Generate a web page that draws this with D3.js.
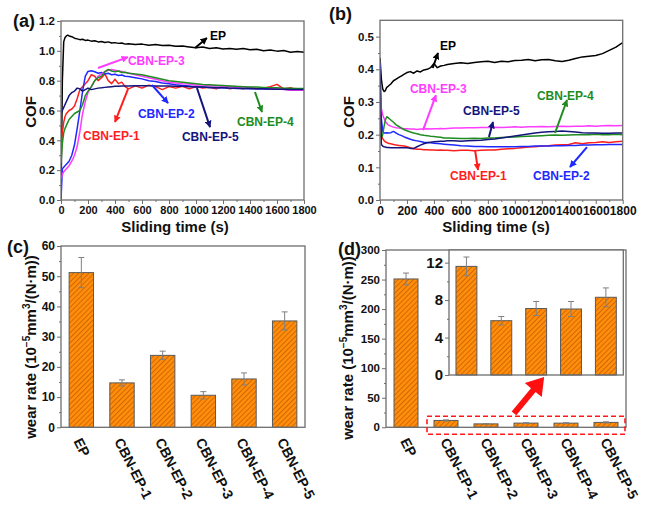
<!DOCTYPE html>
<html><head><meta charset="utf-8">
<script src="https://cdn.jsdelivr.net/npm/d3@7"></script>
<style>
body{margin:0;background:#fff}
svg{display:block}
text{font-family:"Liberation Sans",Arial,sans-serif;font-weight:bold}
</style>
</head><body>
<svg id="chart" width="653" height="510"></svg>
<script>
// ---------- DATA ----------
const times = [0,10,20,30,40,50,60,80,100,120,140,160,180,200,225,250,275,300,325,350,375,400,425,450,475,500,550,600,650,700,750,800,850,900,950,1000,1050,1100,1150,1200,1250,1300,1350,1400,1450,1500,1550,1600,1650,1700,1750,1800];

const seriesNames = ["EP","CBN-EP-1","CBN-EP-2","CBN-EP-3","CBN-EP-4","CBN-EP-5"];

// panel (a)
const a_EP = [0.0,0.80,1.06,1.09,1.10,1.105,1.10,1.095,1.085,1.08,1.075,1.078,1.07,1.072,1.065,1.068,1.06,1.062,1.056,1.06,1.052,1.055,1.05,1.053,1.045,1.048,1.043,1.045,1.038,1.042,1.035,1.038,1.03,1.033,1.026,1.02,1.025,1.015,1.02,1.012,1.016,1.01,1.015,1.008,1.01,1.0,1.005,0.998,1.002,0.99,0.995,0.99];
const a_1 = [0.30,0.45,0.52,0.56,0.58,0.59,0.60,0.61,0.63,0.68,0.74,0.76,0.78,0.80,0.84,0.83,0.80,0.82,0.845,0.80,0.78,0.81,0.78,0.79,0.76,0.745,0.765,0.75,0.77,0.76,0.74,0.76,0.75,0.762,0.745,0.76,0.75,0.755,0.745,0.76,0.745,0.752,0.745,0.755,0.745,0.75,0.76,0.775,0.745,0.752,0.738,0.745];
const a_2 = [0.0,0.21,0.22,0.23,0.24,0.25,0.26,0.30,0.37,0.48,0.60,0.73,0.83,0.862,0.866,0.86,0.85,0.855,0.845,0.85,0.84,0.843,0.835,0.838,0.83,0.828,0.82,0.812,0.80,0.795,0.785,0.78,0.772,0.768,0.765,0.76,0.758,0.755,0.752,0.752,0.75,0.748,0.748,0.745,0.745,0.744,0.743,0.742,0.742,0.74,0.74,0.74];
const a_3 = [0.14,0.17,0.19,0.20,0.21,0.22,0.23,0.26,0.30,0.36,0.46,0.58,0.66,0.72,0.76,0.80,0.83,0.845,0.86,0.87,0.875,0.87,0.865,0.862,0.855,0.852,0.84,0.83,0.82,0.81,0.80,0.79,0.785,0.78,0.778,0.77,0.772,0.765,0.768,0.76,0.762,0.755,0.76,0.752,0.75,0.752,0.745,0.745,0.74,0.735,0.738,0.735];
const a_4 = [0.25,0.38,0.45,0.48,0.50,0.52,0.54,0.56,0.58,0.59,0.60,0.64,0.70,0.73,0.76,0.80,0.82,0.83,0.86,0.875,0.865,0.86,0.865,0.855,0.857,0.85,0.845,0.84,0.83,0.82,0.81,0.80,0.795,0.79,0.785,0.78,0.775,0.772,0.77,0.768,0.765,0.762,0.76,0.758,0.757,0.755,0.753,0.752,0.75,0.75,0.748,0.748];
const a_5 = [0.58,0.60,0.62,0.64,0.66,0.68,0.70,0.72,0.73,0.75,0.745,0.73,0.74,0.75,0.74,0.745,0.75,0.752,0.755,0.758,0.76,0.762,0.763,0.764,0.765,0.765,0.766,0.766,0.766,0.765,0.765,0.764,0.763,0.762,0.76,0.758,0.757,0.755,0.754,0.752,0.75,0.749,0.748,0.747,0.746,0.745,0.744,0.743,0.742,0.741,0.74,0.74];

// panel (b)
const b_EP = [0.435,0.37,0.34,0.332,0.335,0.345,0.348,0.355,0.365,0.37,0.375,0.38,0.385,0.39,0.393,0.388,0.395,0.392,0.398,0.40,0.405,0.418,0.405,0.41,0.412,0.415,0.418,0.42,0.418,0.421,0.423,0.425,0.421,0.425,0.423,0.427,0.428,0.43,0.426,0.429,0.43,0.426,0.424,0.428,0.433,0.438,0.44,0.442,0.448,0.458,0.468,0.482];
const b_1 = [0.30,0.20,0.188,0.182,0.178,0.176,0.174,0.172,0.17,0.168,0.167,0.166,0.165,0.163,0.16,0.157,0.155,0.155,0.154,0.154,0.153,0.153,0.152,0.153,0.152,0.152,0.151,0.152,0.152,0.151,0.152,0.153,0.153,0.155,0.157,0.158,0.16,0.162,0.163,0.165,0.166,0.168,0.169,0.17,0.175,0.172,0.175,0.176,0.178,0.176,0.178,0.18];
const b_2 = [0.42,0.25,0.21,0.205,0.205,0.206,0.205,0.206,0.21,0.205,0.20,0.197,0.193,0.19,0.186,0.183,0.181,0.179,0.177,0.176,0.175,0.174,0.173,0.172,0.171,0.17,0.168,0.166,0.165,0.164,0.164,0.163,0.163,0.163,0.163,0.163,0.164,0.164,0.165,0.165,0.165,0.166,0.166,0.167,0.167,0.168,0.168,0.169,0.169,0.17,0.17,0.17];
const b_3 = [0.33,0.28,0.26,0.25,0.24,0.235,0.23,0.226,0.223,0.221,0.22,0.219,0.218,0.218,0.217,0.217,0.216,0.217,0.217,0.218,0.217,0.218,0.218,0.219,0.218,0.219,0.22,0.22,0.221,0.221,0.222,0.222,0.223,0.222,0.223,0.224,0.223,0.224,0.224,0.225,0.224,0.225,0.226,0.225,0.226,0.226,0.227,0.226,0.227,0.228,0.227,0.228];
const b_4 = [0.20,0.19,0.20,0.225,0.245,0.255,0.252,0.245,0.238,0.23,0.225,0.22,0.215,0.212,0.208,0.205,0.203,0.20,0.198,0.197,0.195,0.194,0.193,0.192,0.19,0.19,0.189,0.188,0.188,0.189,0.188,0.19,0.19,0.191,0.192,0.193,0.194,0.195,0.196,0.197,0.198,0.199,0.198,0.199,0.20,0.20,0.20,0.201,0.20,0.20,0.201,0.20];
const b_5 = [0.40,0.17,0.165,0.163,0.162,0.161,0.161,0.16,0.16,0.16,0.16,0.16,0.16,0.16,0.158,0.158,0.163,0.168,0.172,0.175,0.177,0.178,0.179,0.18,0.18,0.181,0.181,0.18,0.181,0.182,0.183,0.185,0.187,0.19,0.193,0.196,0.199,0.202,0.205,0.207,0.209,0.21,0.211,0.21,0.208,0.206,0.205,0.205,0.204,0.204,0.205,0.205];

// wear rate bars
const barCats = ["EP","CBN-EP-1","CBN-EP-2","CBN-EP-3","CBN-EP-4","CBN-EP-5"];
const wearC = [51.2,14.7,23.8,10.6,16.0,35.2];
const wearCErr = [5.0,1.0,1.4,1.2,2.0,3.0];
const wearD = [251,11.6,5.8,7.1,7.05,8.3];
const wearDErr = [10,1.0,0.45,0.75,0.8,1.0];

// tick labels
const ticksTime = [0,200,400,600,800,1000,1200,1400,1600,1800];
const ticksCOFa = [0,0.2,0.4,0.6,0.8,1.0,1.2];
const ticksCOFb = [0,0.1,0.2,0.3,0.4,0.5];
const ticksWearC = [0,10,20,30,40,50,60];
const ticksWearD = [0,50,100,150,200,250,300];
const ticksInset = [0,4,8,12];

// annotations: [arrow from], [arrow to], [label position] in data units
const annA = [
  {s:"EP", from:[993,1.019], to:[1081,1.086], at:[1104,1.072]},
  {s:"CBN-EP-3", from:[274,0.885], to:[496,0.958], at:[496,0.905]},
  {s:"CBN-EP-1", from:[496,0.744], to:[400,0.523], at:[163,0.402]},
  {s:"CBN-EP-2", from:[674,0.771], to:[793,0.65], at:[570,0.55]},
  {s:"CBN-EP-5", from:[1007,0.751], to:[1104,0.489], at:[896,0.395]},
  {s:"CBN-EP-4", from:[1437,0.724], to:[1489,0.59], at:[1304,0.496]}
];
const annB = [
  {s:"EP", from:[391,0.404], to:[430,0.45], at:[445,0.459]},
  {s:"CBN-EP-3", from:[319,0.214], to:[415,0.321], at:[222,0.3275]},
  {s:"CBN-EP-5", from:[808,0.193], to:[838,0.239], at:[616,0.26]},
  {s:"CBN-EP-4", from:[1298,0.205], to:[1387,0.306], at:[1164,0.306]},
  {s:"CBN-EP-1", from:[705,0.153], to:[727,0.092], at:[519,0.061]},
  {s:"CBN-EP-2", from:[1535,0.162], to:[1409,0.101], at:[1135,0.061]}
];

// ---------- STYLE ----------
const colors = {"EP":"#000000","CBN-EP-1":"#ff1e1e","CBN-EP-2":"#1e28ff","CBN-EP-3":"#ff3cff","CBN-EP-4":"#1e8c1e","CBN-EP-5":"#14147d"};
const FRAME = "#6e6e6e";

const svg = d3.select("#chart");
const defs = svg.append("defs");
Object.entries(colors).forEach(([k,c],i)=>{
  defs.append("marker").attr("id","ah"+i).attr("viewBox","0 0 10 10")
    .attr("refX",9).attr("refY",5).attr("markerWidth",7).attr("markerHeight",7)
    .attr("markerUnits","userSpaceOnUse").attr("orient","auto")
    .append("path").attr("d","M0,0L10,5L0,10z").attr("fill",c);
});
const pat = defs.append("pattern").attr("id","hatch").attr("width",3.6).attr("height",3.6)
  .attr("patternUnits","userSpaceOnUse").attr("patternTransform","rotate(45)");
pat.append("rect").attr("width",3.6).attr("height",3.6).attr("fill","#ff8c0a");
pat.append("line").attr("x1",0).attr("y1",0).attr("x2",0).attr("y2",3.6).attr("stroke","#b85a00").attr("stroke-width",1.3);

function minorOf(ticks){
  const out=[];
  for(let i=0;i<ticks.length-1;i++) out.push((ticks[i]+ticks[i+1])/2);
  return out;
}
function frame(x0,x1,y0,y1){
  svg.append("rect").attr("x",x0).attr("y",y0).attr("width",x1-x0).attr("height",y1-y0)
    .attr("fill","none").attr("stroke",FRAME).attr("stroke-width",1.3);
}
function styleAxis(g, fs){
  g.select(".domain").remove();
  g.selectAll("line").attr("stroke",FRAME).attr("stroke-width",1);
  g.selectAll("text").attr("font-size",fs).attr("fill","#111").attr("font-weight","bold")
    .attr("font-family",'"Liberation Sans",Arial,sans-serif');
}
function leftAxis(y, xpos, ticks, fmt, fs){
  const g = svg.append("g").attr("transform",`translate(${xpos},0)`)
    .call(d3.axisLeft(y).tickValues(ticks).tickFormat(fmt).tickSize(4).tickPadding(2));
  styleAxis(g, fs);
  const m = svg.append("g").attr("transform",`translate(${xpos},0)`)
    .call(d3.axisLeft(y).tickValues(minorOf(ticks)).tickFormat("").tickSize(2));
  styleAxis(m, fs);
}
function bottomAxis(x, ypos, ticks, fmt, fs){
  const g = svg.append("g").attr("transform",`translate(0,${ypos})`)
    .call(d3.axisBottom(x).tickValues(ticks).tickFormat(fmt).tickSize(4).tickPadding(2));
  styleAxis(g, fs);
  const m = svg.append("g").attr("transform",`translate(0,${ypos})`)
    .call(d3.axisBottom(x).tickValues(minorOf(ticks)).tickFormat("").tickSize(2));
  styleAxis(m, fs);
}
function panelLabel(s,x,y){
  svg.append("text").attr("x",x).attr("y",y).attr("font-size",18).attr("fill","#111").text(s);
}

// ---------- COF PANELS ----------
function cofPanel(xr, yr, ydom, yticks, series, ann, labelX, labelY, titleX, titleY, xfs){
  const x = d3.scaleLinear().domain([0,1800]).range(xr);
  const y = d3.scaleLinear().domain(ydom).range(yr);
  const clip = "clip"+Math.round(xr[0]);
  defs.append("clipPath").attr("id",clip).append("rect")
    .attr("x",xr[0]).attr("y",yr[1]).attr("width",xr[1]-xr[0]).attr("height",yr[0]-yr[1]);
  const line = d3.line().x((d,i)=>x(times[i])).y(d=>y(d));
  const lg = svg.append("g").attr("clip-path",`url(#${clip})`);
  series.forEach((vals,i)=>{
    lg.append("path").attr("d",line(vals)).attr("fill","none")
      .attr("stroke",colors[seriesNames[i]]).attr("stroke-width",1.5).attr("stroke-linejoin","round");
  });
  frame(xr[0],xr[1],yr[1],yr[0]);
  leftAxis(y, xr[0], yticks, d3.format(".1f"), 11.5);
  bottomAxis(x, yr[0], ticksTime, d3.format("d"), xfs);
  ann.forEach(a=>{
    const idx = seriesNames.indexOf(a.s);
    svg.append("line").attr("x1",x(a.from[0])).attr("y1",y(a.from[1]))
      .attr("x2",x(a.to[0])).attr("y2",y(a.to[1]))
      .attr("stroke",colors[a.s]).attr("stroke-width",2).attr("marker-end",`url(#ah${idx})`);
    svg.append("text").attr("x",x(a.at[0])).attr("y",y(a.at[1])).attr("font-size",12)
      .attr("fill",colors[a.s]).text(a.s);
  });
  svg.append("text").attr("transform",`translate(${labelX},${labelY}) rotate(-90)`)
    .attr("text-anchor","middle").attr("font-size",15).attr("fill","#111").text("COF");
  svg.append("text").attr("x",titleX).attr("y",titleY).attr("text-anchor","middle")
    .attr("font-size",15).attr("fill","#111").text("Sliding time (s)");
}

cofPanel([61,304],[200,21],[0,1.2],ticksCOFa,[a_EP,a_1,a_2,a_3,a_4,a_5],annA,36,112,175,232,11);
cofPanel([380,622.7],[200,20.3],[0,0.55],ticksCOFb,[b_EP,b_1,b_2,b_3,b_4,b_5],annB,354,112,496,232,12);
panelLabel("(a)",13,27);
panelLabel("(b)",329,20);

// ---------- BAR PANELS ----------
function wearLabel(x,y){
  const t = svg.append("text").attr("transform",`translate(${x},${y}) rotate(-90)`)
    .attr("text-anchor","middle").attr("font-size",15).attr("fill","#111");
  t.append("tspan").text("wear rate (10");
  t.append("tspan").attr("font-size",10).attr("dy",-6).text("\u22125");
  t.append("tspan").attr("dy",6).text("mm");
  t.append("tspan").attr("font-size",10).attr("dy",-6).text("3");
  t.append("tspan").attr("dy",6).text("/(N\u00b7m))");
}
function bars(x, y, cats, vals, errs){
  const g = svg.append("g");
  cats.forEach((c,i)=>{
    const v = vals[i], e = errs[i];
    g.append("rect").attr("x",x(c)).attr("y",y(v)).attr("width",x.bandwidth())
      .attr("height",y(0)-y(v)).attr("fill","url(#hatch)").attr("stroke","#5a5a5a").attr("stroke-width",1);
    const cx = x(c)+x.bandwidth()/2;
    g.append("line").attr("x1",cx).attr("x2",cx).attr("y1",y(v-e)).attr("y2",y(v+e))
      .attr("stroke","#808080").attr("stroke-width",1);
    [v-e,v+e].forEach(w=>g.append("line").attr("x1",cx-3).attr("x2",cx+3).attr("y1",y(w)).attr("y2",y(w))
      .attr("stroke","#808080").attr("stroke-width",1));
  });
}
function catLabels(x, ypos, dx){
  barCats.forEach(c=>{
    const cx = x(c)+x.bandwidth()/2;
    svg.append("text").attr("transform",`translate(${cx+dx},${ypos+14}) rotate(63)`)
      .attr("font-size",14).attr("fill","#111").text(c);
  });
}

// (c)
const xC = d3.scaleBand().domain(barCats).range([61,305]).paddingInner(0.4).paddingOuter(0.2);
const yC = d3.scaleLinear().domain([0,60]).range([427.3,246]);
bars(xC,yC,barCats,wearC,wearCErr);
frame(61,305,246,427.3);
leftAxis(yC,61,ticksWearC,d3.format("d"),12);
catLabels(xC,427.3,-8);
wearLabel(36,347);
panelLabel("(c)",7,253);

// (d)
const xD = d3.scaleBand().domain(barCats).range([386,626]).paddingInner(0.4).paddingOuter(0.2);
const yD = d3.scaleLinear().domain([0,300]).range([427.3,250]);
bars(xD,yD,barCats,wearD,wearDErr);
frame(386,626,250,427.3);
leftAxis(yD,386,ticksWearD,d3.format("d"),11.5);
catLabels(xD,427.3,-6);
wearLabel(353,348);
panelLabel("(d)",338,255);

// inset
const insetCats = barCats.slice(1);
const xI = d3.scaleBand().domain(insetCats).range([449,623.3]).paddingInner(0.4).paddingOuter(0.2);
const yI = d3.scaleLinear().domain([0,13.35]).range([375,250]);
svg.append("rect").attr("x",449).attr("y",250).attr("width",623.3-449).attr("height",125).attr("fill","#fff");
bars(xI,yI,insetCats,wearD.slice(1),wearDErr.slice(1));
frame(449,623.3,250,375);
leftAxis(yI,449,ticksInset,d3.format("d"),15);

// red dashed box and arrow
const bx0 = xD(barCats[1])-7, bx1 = xD(barCats[5])+xD.bandwidth()+7;
svg.append("rect").attr("x",bx0).attr("y",yD(0)-11).attr("width",bx1-bx0).attr("height",18)
  .attr("fill","none").attr("stroke","#ff1a1a").attr("stroke-width",1.6).attr("stroke-dasharray","5,3");
(function(){
  const tx = xD(barCats[3])+xD.bandwidth()/2-12, ty = yD(0)-14;
  const hx = xI(barCats[3])+xI.bandwidth()/2+8, hy = yI(0)+2;
  const dx = hx-tx, dy = hy-ty, L = Math.hypot(dx,dy), ux = dx/L, uy = dy/L, px = -uy, py = ux;
  const hl = 17, hw = 11, sw = 3;
  const bxh = hx-ux*hl, byh = hy-uy*hl;
  const pts = [[tx+px*sw,ty+py*sw],[bxh+px*sw,byh+py*sw],[bxh+px*hw,byh+py*hw],[hx,hy],
               [bxh-px*hw,byh-py*hw],[bxh-px*sw,byh-py*sw],[tx-px*sw,ty-py*sw]];
  svg.append("polygon").attr("points",pts.map(p=>p.join(",")).join(" ")).attr("fill","#ff1010");
})();
</script>
</body></html>
